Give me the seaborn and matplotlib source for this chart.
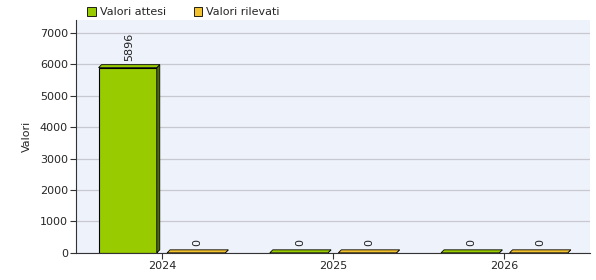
import matplotlib
matplotlib.use("Agg")
import matplotlib.pyplot as plt
from matplotlib.patches import Polygon, Patch
import seaborn as sns
import pandas as pd

years = ["2024", "2025", "2026"]
series = ["Valori attesi", "Valori rilevati"]
attesi = [5896, 0, 0]
rilevati = [0, 0, 0]

colors = {"Valori attesi": "#99CC00", "Valori rilevati": "#F2C12E"}
dark = {"Valori attesi": "#4E6B08", "Valori rilevati": "#A8841A"}

df = pd.DataFrame({
    "anno": years * 2,
    "serie": [series[0]] * 3 + [series[1]] * 3,
    "valore": attesi + rilevati,
})

sns.set_style("white")
plt.rcParams["font.family"] = ["DejaVu Sans"]

fig = plt.figure(figsize=(5.96, 2.80), dpi=100)
ax = fig.add_axes([0.128, 0.097, 0.862, 0.83])
ax.set_facecolor("#EEF2FB")

sns.barplot(data=df, x="anno", y="valore", hue="serie", palette=colors,
            saturation=1, width=0.8, gap=0.15, edgecolor="black", linewidth=0.8,
            legend=False, ax=ax)

ax.set_ylim(0, 7400)
ax.set_xlim(-0.5, 2.5)
ax.set_yticks(range(0, 7001, 1000))
ax.yaxis.grid(True, color="#C8C8D0", linewidth=0.9)
ax.set_axisbelow(True)
for s in ["top", "right"]:
    ax.spines[s].set_visible(False)
ax.spines["left"].set_color("#333333")
ax.spines["bottom"].set_color("#333333")
ax.tick_params(axis="both", length=4, width=0.8, color="#333333", labelsize=8,
               direction="out", left=True, bottom=True, pad=2)
ax.set_xlabel("")
ax.set_ylabel("Valori", fontsize=8, labelpad=6)

# pseudo 3D faces derived from each bar
n = len(years)
d = 3  # pixels
inv = ax.transData.inverted()
for i, p in enumerate(ax.patches[:2 * n]):
    name = series[i // n]
    x0, y0 = p.get_x(), p.get_y()
    w, h = p.get_width(), p.get_height()
    a0, b0 = ax.transData.transform((x0, y0))
    a1, b1 = ax.transData.transform((x0 + w, y0 + h))
    side = [(a1, b0), (a1 + d, b0 + d), (a1 + d, b1 + d), (a1, b1)]
    top = [(a0, b1), (a0 + d, b1 + d), (a1 + d, b1 + d), (a1, b1)]
    for poly, col in ((side, dark[name]), (top, colors[name])):
        ax.add_patch(Polygon([inv.transform(q) for q in poly], closed=True,
                             facecolor=col, edgecolor="black", linewidth=0.6,
                             clip_on=False, zorder=p.get_zorder()))
    val = attesi[i % n] if i < n else rilevati[i % n]
    ax.annotate(f"{val}", (x0 + w / 2, h), xytext=(1, 5), textcoords="offset points",
                rotation=90, ha="center", va="bottom", fontsize=8, color="#222222")

handles = [Patch(facecolor=colors[s], edgecolor="black", linewidth=0.6, label=s) for s in series]
fig.legend(handles=handles, loc="upper left", bbox_to_anchor=(0.13, 1.01), ncol=2,
           frameon=False, fontsize=8, handlelength=0.8, handleheight=0.8,
           handletextpad=0.3, columnspacing=2.5)

fig.savefig("out.png", dpi=100)
